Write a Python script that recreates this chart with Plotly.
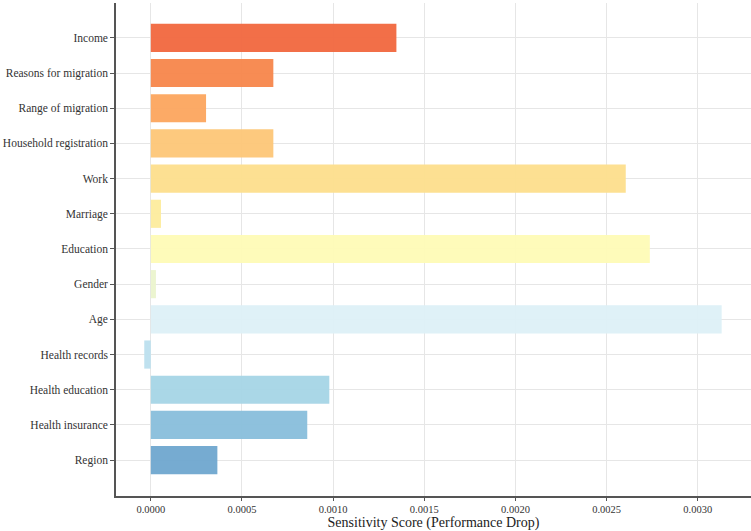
import plotly.graph_objects as go

features = ["Income", "Reasons for migration", "Range of migration", "Household registration",
            "Work", "Marriage", "Education", "Gender", "Age", "Health records",
            "Health education", "Health insurance", "Region"]
scores = [0.001347, 0.000672, 0.000303, 0.000672, 0.002605, 0.000056, 0.002737,
          0.000028, 0.003131, -0.000036, 0.000979, 0.000858, 0.000365]
colors = ["#f26b43", "#f7894f", "#fca862", "#fdc87a", "#fde08f", "#fdeda0", "#fefbb8",
          "#ecf5cf", "#def1f7", "#bde1ef", "#a8d6e7", "#8bc0dc", "#72a9d0"]
xticks = [0.0, 0.0005, 0.0010, 0.0015, 0.0020, 0.0025, 0.0030]
xticklabels = ["0.0000", "0.0005", "0.0010", "0.0015", "0.0020", "0.0025", "0.0030"]

fig = go.Figure(go.Bar(
    x=scores, y=features, orientation="h",
    marker=dict(color=colors, line=dict(width=0)),
    opacity=0.97, width=0.8,
))

font = "Liberation Serif, Times New Roman, serif"
fig.update_layout(
    width=751, height=531,
    margin=dict(l=116, r=0, t=3, b=35),
    paper_bgcolor="white", plot_bgcolor="white",
    font=dict(family=font, size=11, color="#333"),
    showlegend=False,
    xaxis=dict(
        range=[-0.000191, 0.003292],
        tickvals=xticks, ticktext=xticklabels,
        showgrid=True, gridcolor="#e6e6e6", gridwidth=1,
        zeroline=False,
        showline=True, linecolor="#555", linewidth=1.5,
        ticks="outside", ticklen=3, tickcolor="#555",
        tickfont=dict(family=font, size=10.5, color="#333"),
        title=dict(text="Sensitivity Score (Performance Drop)", standoff=5,
                   font=dict(family=font, size=14, color="#222")),
    ),
    yaxis=dict(
        categoryorder="array", categoryarray=features,
        range=[13.02, -0.99],
        showgrid=True, gridcolor="#e6e6e6", gridwidth=1,
        zeroline=False,
        showline=True, linecolor="#555", linewidth=1.5,
        ticks="outside", ticklen=4, tickcolor="#555",
        tickfont=dict(family=font, size=11.5, color="#333"),
    ),
)

fig.write_html("out.html")
